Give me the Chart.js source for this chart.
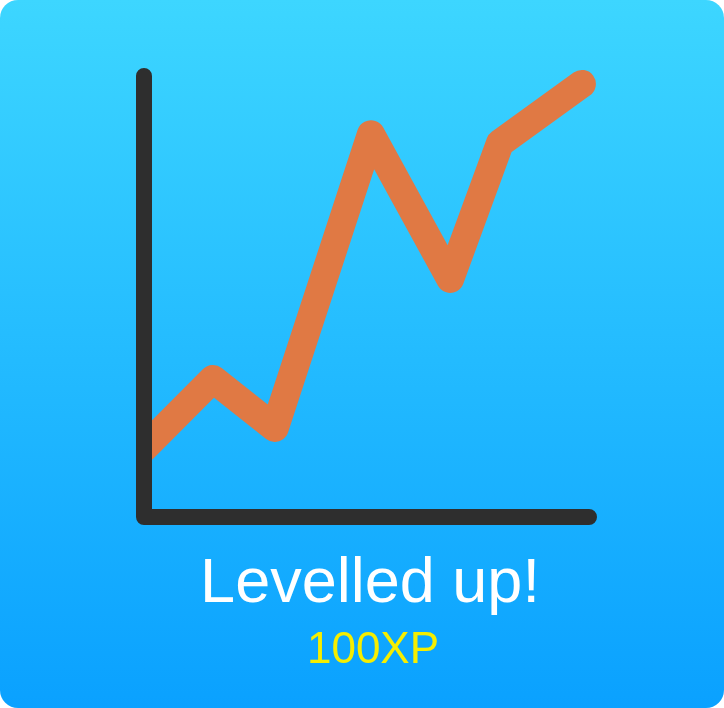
<!DOCTYPE html>
<html>
<head>
<meta charset="utf-8">
<script src="https://cdn.jsdelivr.net/npm/chart.js@4"></script>
<style>
  html, body { margin: 0; padding: 0; background: #ffffff; }
  #card {
    position: relative;
    width: 724px;
    height: 708px;
    border-radius: 18px;
    overflow: hidden;
    background: linear-gradient(to bottom, #3dd6ff 0%, #0aa1ff 100%);
  }
  #levelup { position: absolute; left: 0; top: 0; }
</style>
</head>
<body>
<div id="card">
  <canvas id="levelup" width="724" height="708"></canvas>
</div>
<script>
// progress line (day -> xp)
const days = [0, 1.55, 2.94, 5.10, 6.88, 8.0, 9.84];
const xp = [15.6, 31.3, 20.2, 86.8, 54.0, 84.8, 98.2];

// the L-shaped axis
const axisX = [0, 0, 10];
const axisY = [100, 0, 0];

const title = 'Levelled up!';
const reward = '100XP';

const toPoints = (xs, ys) => xs.map((x, i) => ({ x: x, y: ys[i] }));

const captionPlugin = {
  id: 'caption',
  afterDraw(chart) {
    const ctx = chart.ctx;
    ctx.save();
    ctx.textAlign = 'center';
    ctx.textBaseline = 'alphabetic';
    ctx.fillStyle = '#ffffff';
    ctx.font = '63px "Liberation Sans", Arial, sans-serif';
    ctx.fillText(title, 370, 602);
    ctx.fillStyle = '#f6ee00';
    ctx.font = '44px "Liberation Sans", Arial, sans-serif';
    ctx.fillText(reward, 373, 663);
    ctx.restore();
  }
};

const ctx = document.getElementById('levelup');

const levelChart = new Chart(ctx, {
  type: 'scatter',
  data: {
    datasets: [
      {
        label: 'axis',
        data: toPoints(axisX, axisY),
        showLine: true,
        borderColor: '#2e2e2e',
        borderWidth: 16,
        borderCapStyle: 'round',
        borderJoinStyle: 'round',
        pointRadius: 0,
        clip: false,
        order: 0
      },
      {
        label: 'xp',
        data: toPoints(days, xp),
        showLine: true,
        borderColor: '#e07944',
        borderWidth: 28,
        borderCapStyle: 'round',
        borderJoinStyle: 'round',
        pointRadius: 0,
        clip: { left: -8, top: 20, right: 20, bottom: 0 },
        order: 1
      }
    ]
  },
  options: {
    responsive: false,
    animation: false,
    layout: {
      padding: { left: 144, right: 135, top: 76, bottom: 191 }
    },
    scales: {
      x: { type: 'linear', min: 0, max: 10, display: false },
      y: { type: 'linear', min: 0, max: 100, display: false }
    },
    plugins: {
      legend: { display: false },
      tooltip: { enabled: false }
    }
  },
  plugins: [captionPlugin]
});
</script>
</body>
</html>
